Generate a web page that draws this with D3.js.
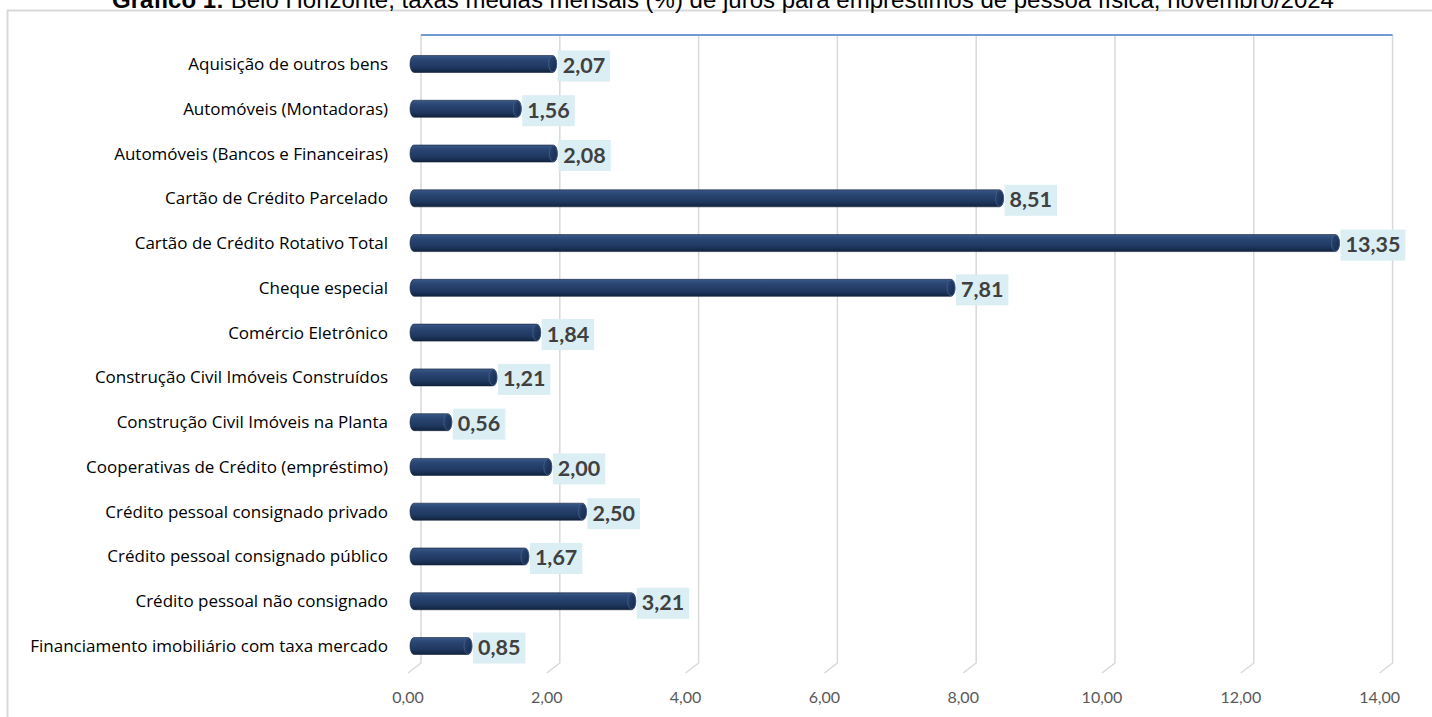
<!DOCTYPE html>
<html lang="pt">
<head>
    <meta charset="UTF-8">
    <title>Gráfico 1 - taxas de juros pessoa física</title>
    <style>
        body { margin: 0; background: #fff; }
        .cat { font-family: "Open Sans", Lato, sans-serif; font-size: 17px; fill: #000; }
        .val { font-family: Lato, "Open Sans", sans-serif; font-size: 21.5px; font-weight: bold; fill: #404040; }
        .tick-lbl { font-family: Lato, "Open Sans", sans-serif; font-size: 16px; fill: #595959; }
        .title { font-family: "Liberation Sans", Arial, sans-serif; font-size: 24px; fill: #000; }
    </style>
    <script src="https://d3js.org/d3.v7.min.js"></script>
</head>
<body>
    <svg width="1432" height="717"></svg>
    <script>
        const width = 1432;
        const height = 717;

        // data
        const categories = [
            "Aquisição de outros bens",
            "Automóveis (Montadoras)",
            "Automóveis (Bancos e Financeiras)",
            "Cartão de Crédito Parcelado",
            "Cartão de Crédito Rotativo Total",
            "Cheque especial",
            "Comércio Eletrônico",
            "Construção Civil Imóveis Construídos",
            "Construção Civil Imóveis na Planta",
            "Cooperativas de Crédito (empréstimo)",
            "Crédito pessoal consignado privado",
            "Crédito pessoal consignado público",
            "Crédito pessoal não consignado",
            "Financiamento imobiliário com taxa mercado"
        ];
        const values = [2.07, 1.56, 2.08, 8.51, 13.35, 7.81, 1.84, 1.21, 0.56, 2.00, 2.50, 1.67, 3.21, 0.85];
        const ticks = [0, 2, 4, 6, 8, 10, 12, 14];

        const fmt = v => v.toFixed(2).replace(".", ",");

        const svg = d3.select("svg")
            .attr("width", width)
            .attr("height", height);

        // three planes of the 3d box: back wall, bar plane, floor front edge
        const xBack = d3.scaleLinear().domain([0, 14]).range([421, 421 + 14 * 69.4]);
        const x = d3.scaleLinear().domain([0, 14]).range([413, 413 + 14 * 69.4]);
        const xFront = d3.scaleLinear().domain([0, 14]).range([406, 406 + 14 * 69.4]);
        const y = d3.scaleBand().domain(categories).range([41.6, 668.4]);

        const defs = svg.append("defs");
        const grad = defs.append("linearGradient")
            .attr("id", "barGrad")
            .attr("x1", 0).attr("y1", 0).attr("x2", 0).attr("y2", 1);
        grad.append("stop").attr("offset", "0%").attr("stop-color", "#3b5a88");
        grad.append("stop").attr("offset", "25%").attr("stop-color", "#2a4673");
        grad.append("stop").attr("offset", "70%").attr("stop-color", "#1f3860");
        grad.append("stop").attr("offset", "100%").attr("stop-color", "#12243f");

        const capGrad = defs.append("linearGradient")
            .attr("id", "capGrad")
            .attr("x1", 0).attr("y1", 0).attr("x2", 1).attr("y2", 1);
        capGrad.append("stop").attr("offset", "0%").attr("stop-color", "#2b4876");
        capGrad.append("stop").attr("offset", "100%").attr("stop-color", "#13284a");

        // chart border
        svg.append("rect")
            .attr("x", 7.5).attr("y", 10.5)
            .attr("width", width).attr("height", height)
            .attr("fill", "none")
            .attr("stroke", "#d9d9d9")
            .attr("stroke-width", 2);

        // title (cut at the top, like the source image)
        const title = svg.append("text")
            .attr("class", "title")
            .attr("x", 723).attr("y", 7.5)
            .attr("text-anchor", "middle");
        title.append("tspan").attr("font-weight", "bold").text("Gráfico 1:");
        title.append("tspan").text(" Belo Horizonte, taxas médias mensais (%) de juros para empréstimos de pessoa física, novembro/2024");

        // gridlines: back wall verticals + floor diagonals
        const topY = 35;
        const backBottom = 663;
        const floorY = 673;
        svg.append("g").attr("class", "grid")
            .selectAll("path")
            .data(ticks)
            .enter().append("path")
            .attr("d", d => `M${xBack(d)},${topY} L${xBack(d)},${backBottom} L${xFront(d) + 2},${floorY}`)
            .attr("fill", "none")
            .attr("stroke", "#d9d9d9")
            .attr("stroke-width", 1.5);

        // top edge of back wall
        svg.append("line")
            .attr("x1", xBack(0)).attr("x2", xBack(14))
            .attr("y1", topY).attr("y2", topY)
            .attr("stroke", "#6f9bd1")
            .attr("stroke-width", 2);

        // x axis labels
        svg.append("g").selectAll("text")
            .data(ticks)
            .enter().append("text")
            .attr("class", "tick-lbl")
            .attr("x", d => xFront(d) + 2)
            .attr("y", 703)
            .attr("text-anchor", "middle")
            .text(d => fmt(d));

        // category labels
        svg.append("g").selectAll("text")
            .data(categories)
            .enter().append("text")
            .attr("class", "cat")
            .attr("x", 388)
            .attr("y", d => y(d) + y.bandwidth() / 2 + 6)
            .attr("text-anchor", "end")
            .text(d => d);

        // bars as flattened cylinders
        const barH = 17;
        const capR = 4;
        const rows = categories.map((c, i) => ({ cat: c, v: values[i] }));
        const x0 = 410;

        const bar = svg.append("g").selectAll("g")
            .data(rows)
            .enter().append("g")
            .attr("transform", d => `translate(0,${y(d.cat) + y.bandwidth() / 2 - barH / 2})`);

        bar.append("rect")
            .attr("x", x0)
            .attr("y", 0)
            .attr("width", d => x(d.v) - x0)
            .attr("height", barH)
            .attr("rx", capR)
            .attr("ry", barH / 2)
            .attr("fill", "url(#barGrad)")
            .attr("stroke", "#10203a")
            .attr("stroke-width", 0.6);

        bar.append("ellipse")
            .attr("cx", d => x(d.v) - capR)
            .attr("cy", barH / 2)
            .attr("rx", capR)
            .attr("ry", barH / 2 - 0.5)
            .attr("fill", "url(#capGrad)")
            .attr("stroke", "#4a638c")
            .attr("stroke-width", 0.7);

        // value labels with light blue box
        const boxH = 31;
        bar.each(function (d) {
            const g = d3.select(this);
            const txt = g.append("text")
                .attr("class", "val")
                .attr("x", x(d.v) + 6)
                .attr("y", barH / 2 + 9)
                .text(fmt(d.v));
            const w = txt.node().getComputedTextLength();
            g.insert("rect", "text")
                .attr("x", x(d.v) + 1)
                .attr("y", barH / 2 - boxH / 2 + 2)
                .attr("width", w + 10)
                .attr("height", boxH)
                .attr("fill", "#daeef3");
        });
    </script>
</body>
</html>
